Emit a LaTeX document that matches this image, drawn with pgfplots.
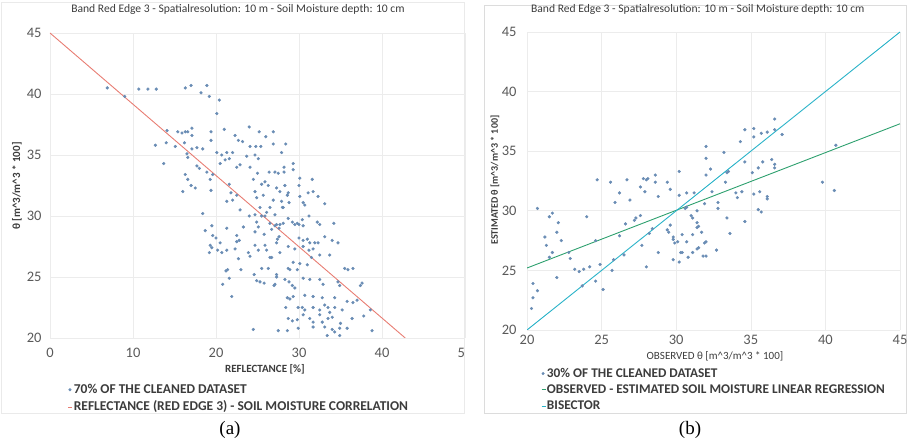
\documentclass[border=0pt]{standalone}
\usepackage{pgfplots}
\pgfplotsset{compat=1.18}
\usepackage{fontspec}
\setmainfont{Carlito}
\newfontfamily\capfont{Liberation Serif}
\definecolor{dotc}{RGB}{105,140,180}
\definecolor{redl}{RGB}{232,125,115}
\definecolor{bisc}{RGB}{40,178,200}
\definecolor{regc}{RGB}{45,160,110}
\definecolor{tickc}{RGB}{89,89,89}
\definecolor{gridc}{RGB}{236,236,236}
\definecolor{txtc}{RGB}{60,60,60}
\definecolor{framec}{RGB}{220,220,220}

\pgfplotsset{
  mystyle/.style={
    scale only axis,
    axis line style={draw=none},
    major tick length=0pt,
    grid=major,
    major grid style={gridc, line width=0.6pt},
    tick label style={font=\fontsize{14.5}{16}\selectfont, text=tickc},
    /pgf/number format/assume math mode=true,
    legend cell align=left,
    title style={font=\fontsize{11.6}{13}\selectfont, text=txtc, anchor=center},
    label style={font=\bfseries\fontsize{11}{13}\selectfont, text=txtc, anchor=center},
  },
  dots/.style={only marks, mark=*, mark size=1.4pt, color=dotc,
    legend image code/.code={\fill (1.5pt,0pt) circle (1.3pt);}},
  lin/.style={line width=0.9pt,
    legend image code/.code={\draw[line width=0.8pt] (0pt,0pt) -- (4pt,0pt);}},
}

\begin{document}
\begin{tikzpicture}[x=1pt,y=1pt]
\useasboundingbox (0,0) rectangle (907,443);
\draw[framec!60!white, line width=0.6pt] (1,30) rectangle (464,441);
\draw[framec, line width=0.6pt] (484,30) rectangle (906.5,438);

\begin{axis}[mystyle,
  at={(50pt,105pt)}, anchor=south west,
  width=415pt, height=305pt,
  xmin=0, xmax=50, ymin=20, ymax=45,
  xtick={0,10,...,50}, ytick={20,25,...,45},
  xticklabel style={yshift=-7pt},
  yticklabel style={xshift=-5pt},
  title={Band Red Edge 3 - Spatialresolution: 10 m - Soil Moisture depth: 10 cm},
  title style={at={(axis description cs:0.453,1.056)}},
  xlabel={REFLECTANCE [\%]},
  xlabel style={at={(axis description cs:0.518,-0.102)}},
  ylabel={θ [m\^{}3/m\^{}3 * 100]},
  ylabel style={at={(axis description cs:-0.0795,0.498)}},
  legend style={at={(axis description cs:0.043,-0.151)}, anchor=north west,
    draw=none, fill=none, inner sep=0pt,
    font=\bfseries\fontsize{13.5}{15}\selectfont, text=txtc,
    nodes={inner ysep=0pt, inner xsep=1pt, text height=9pt, text depth=2pt},
    row sep=6.5pt},
]
\addplot[dots] coordinates {
(6.9,40.5) (9.0,39.8) (10.7,40.4) (11.8,40.4) (12.8,40.4) (16.3,40.5) (17.0,40.7) (18.2,40.1) (18.9,40.7) (19.2,39.8) (20.4,39.5) (20.1,38.4)
(12.7,35.8) (13.7,34.3) (14.0,36.0) (14.1,37.0) (15.4,36.9) (15.9,36.8) (16.3,36.9) (16.6,36.9) (15.1,35.7) (17.1,37.2) (17.1,36.6) (16.2,36.0)
(16.5,35.1) (16.6,34.8) (17.1,35.5) (17.7,35.6) (18.4,35.5) (16.3,33.4) (16.6,33.0) (16.0,32.0) (17.0,32.5) (17.5,32.3) (17.7,34.1) (18.0,33.9)
(18.9,33.6) (19.3,33.0) (19.6,33.4) (19.4,32.1) (19.4,36.9) (19.4,36.2) (21.0,37.1) (20.1,35.2) (20.7,35.0) (21.3,35.2) (20.5,34.3) (21.1,34.6)
(21.6,34.7) (22.0,35.2) (21.6,32.6) (21.8,31.9) (22.0,31.3) (21.3,31.2) (22.5,31.7) (22.3,36.6) (22.7,36.2) (23.2,36.1) (24.0,37.3) (23.7,34.9)
(24.1,34.0) (22.9,34.2) (22.5,34.0) (24.1,35.7)
(25.2,36.9) (26.0,36.5) (26.9,36.9) (24.8,35.7) (25.4,35.7) (26.9,35.9) (28.4,35.9) (24.7,35.0) (25.1,34.7) (28.2,34.0) (29.3,34.3) (26.4,33.6)
(27.1,33.6) (27.5,33.5) (28.2,33.6) (29.3,33.8) (24.5,33.0) (25.5,32.6) (25.9,32.8) (26.3,32.5) (27.3,32.3) (27.7,32.0) (28.3,32.5) (28.7,31.9)
(28.6,31.7) (30.1,33.1) (31.6,33.0) (30.0,32.5) (31.1,31.9) (31.7,32.0) (30.1,31.6) (30.5,31.1) (30.7,30.9) (32.3,31.6) (33.1,31.0) (24.7,32.0)
(24.9,31.5) (25.7,31.7) (26.9,31.3) (27.9,31.2) (28.1,30.7) (28.8,31.1) (26.5,30.7) (25.3,30.7) (27.9,35.2) (25.0,33.5) (24.0,30.0) (25.5,30.0)
(26.1,30.3) (22.9,30.5)
(18.4,30.2) (19.5,29.2) (18.7,28.8) (21.3,29.0) (23.3,29.1) (19.6,28.4) (20.0,28.2) (19.3,27.6) (19.5,27.4) (20.2,27.2) (20.7,27.0) (20.5,27.8)
(19.2,27.0) (21.3,27.2) (22.3,27.3) (22.5,28.4) (22.8,28.0) (22.5,27.9) (23.9,27.0) (24.1,26.7) (22.7,26.5) (21.2,25.5) (21.4,25.6) (23.0,25.6)
(21.6,24.9) (20.8,24.4) (21.9,23.4) (24.5,20.7) (24.6,25.2) (24.9,24.7) (25.3,24.6) (25.8,24.5) (24.7,27.6) (25.1,27.2) (25.9,27.6) (26.1,27.2)
(25.5,25.7) (26.3,25.7) (26.5,26.6) (27.3,25.0) (27.0,24.3) (24.7,28.7) (24.9,29.5) (24.7,30.1) (25.1,29.1) (25.9,30.0) (26.5,29.4) (26.7,28.9)
(27.1,29.2) (27.6,29.0) (25.8,28.5) (26.7,26.6) (27.4,28.1)
(27.1,30.1) (28.0,30.7) (28.7,29.8) (29.2,29.5) (29.5,29.3) (29.8,29.4) (27.3,29.3) (27.7,29.3) (28.1,29.4) (30.4,29.7) (30.0,29.3) (30.5,29.2)
(32.2,29.5) (32.5,29.3) (34.2,29.4) (31.2,30.0) (27.6,28.3) (27.3,27.8) (27.7,27.0) (28.7,27.5) (29.5,27.3) (30.0,28.2) (30.5,28.0) (31.0,28.1)
(31.3,27.8) (31.9,27.8) (32.3,27.8) (31.2,27.2) (31.7,27.3) (30.5,27.5) (33.1,28.3) (34.0,28.0) (34.7,27.8) (33.7,26.8) (32.5,26.8) (31.5,26.6)
(31.0,26.0) (29.3,26.2) (30.1,26.1) (28.7,25.7) (28.9,25.6) (29.8,25.6) (27.3,25.2) (27.1,24.4) (28.3,24.8) (28.8,24.6) (29.2,24.3) (29.5,24.1)
(30.5,24.9) (31.3,24.8) (32.5,24.8) (32.9,24.4) (35.5,25.7) (35.9,25.6) (36.5,25.7) (34.7,24.6) (34.9,24.3) (37.6,24.5) (28.6,23.3) (28.9,23.2)
(29.3,23.4) (30.7,23.5) (31.7,23.4) (32.8,23.3) (28.4,22.5) (29.9,22.5) (30.4,22.5) (30.7,22.3) (31.7,22.5) (32.5,22.3) (33.1,22.7) (33.5,22.5)
(33.7,22.1) (34.3,23.3) (34.3,22.5) (35.2,22.3) (35.8,23.0) (36.5,22.9) (37.0,23.1) (38.6,22.3) (28.7,21.6) (29.2,21.4) (29.8,21.5) (30.5,21.9)
(31.3,21.6) (31.7,21.3) (32.5,21.9) (32.8,21.3) (33.5,21.6) (34.0,21.7) (36.4,21.6) (33.1,20.9) (34.0,20.7) (34.3,20.5) (34.9,20.8) (35.8,20.8)
(27.5,20.6) (28.6,20.6) (33.4,20.2) (34.9,20.2) (38.8,20.6) (31.7,20.9) (29.9,20.8) (37.8,21.8) (35.0,21.2) (37.4,24.3)
};
\addlegendentry{70\% OF THE CLEANED DATASET}
\addplot[lin, color=redl] coordinates {(0,45) (42.8,20)};
\addlegendentry{REFLECTANCE (RED EDGE 3) - SOIL MOISTURE CORRELATION}
\end{axis}

\fill[white] (464.5,75) rectangle (483.5,100);

\begin{axis}[mystyle,
  at={(527pt,113pt)}, anchor=south west,
  width=373pt, height=298pt,
  xmin=20, xmax=45, ymin=20, ymax=45,
  xtick={20,25,...,45}, ytick={20,25,...,45},
  xticklabel style={yshift=-2pt},
  yticklabel style={xshift=-7pt},
  title={Band Red Edge 3 - Spatialresolution: 10 m - Soil Moisture depth: 10 cm},
  title style={at={(axis description cs:0.458,1.057)}},
  xlabel={OBSERVED θ [m\^{}3/m\^{}3 * 100]},
  xlabel style={at={(axis description cs:0.504,-0.087)}, font=\fontsize{11}{13}\selectfont},
  ylabel={ESTIMATED θ [m\^{}3/m\^{}3 * 100]},
  ylabel style={at={(axis description cs:-0.086,0.503)}, font=\bfseries\fontsize{10}{12}\selectfont},
  legend style={at={(axis description cs:0.0375,-0.127)}, anchor=north west,
    draw=none, fill=none, inner sep=0pt,
    font=\bfseries\fontsize{13.3}{15}\selectfont, text=txtc,
    nodes={inner ysep=0pt, inner xsep=1pt, text height=9pt, text depth=2pt},
    row sep=5.2pt},
]
\addplot[dots] coordinates {
(20.7,30.2) (21.5,29.5) (21.7,29.8) (24.0,29.5) (24.7,32.6) (25.6,32.4) (25.9,30.7) (26.2,31.5) (26.7,32.6) (26.9,30.9) (27.6,32.0) (27.8,32.7)
(28.1,32.7) (27.9,31.6) (28.6,33.0) (28.6,32.4) (29.4,32.4) (28.8,31.2) (29.6,31.8) (30.2,33.3) (30.2,31.3) (30.7,31.5) (31.2,31.5) (30.7,30.3)
(31.0,29.6) (31.4,30.0) (32.0,33.0) (31.9,30.6) (32.0,34.4) (32.0,35.4) (32.3,33.5) (32.4,31.6) (32.8,30.7) (32.8,30.2) (33.2,34.9) (33.4,33.2)
(33.3,32.4) (33.5,33.3) (34.0,31.5) (34.1,31.1) (34.4,31.6) (34.3,35.8) (34.6,34.1) (34.6,36.8) (35.2,36.2) (35.2,36.9) (35.7,36.5) (35.1,33.2)
(35.5,33.6) (35.2,31.4) (35.6,31.6) (35.5,30.1) (35.7,29.9) (35.8,34.1) (36.1,31.2) (36.1,31.0) (36.1,36.6) (36.6,37.7) (36.6,36.8) (36.4,34.3)
(36.6,33.9) (36.6,33.6) (37.1,36.4) (39.8,32.4) (40.6,31.7) (40.7,35.5) (28.0,32.6) (22.1,29.0) (27.3,29.4) (27.6,29.6) (26.6,28.9)
(21.2,27.8) (21.3,27.1) (21.7,26.5) (22.0,28.2) (22.3,27.5) (21.5,26.1) (20.4,23.9) (20.7,23.3) (20.4,22.7) (20.3,21.8) (22.0,24.4) (22.9,26.0)
(22.8,26.5) (23.2,25.1) (23.5,24.9) (23.8,25.1) (24.2,25.3) (24.6,27.5) (23.7,23.7) (24.6,24.1) (24.9,25.5) (25.1,23.4) (25.7,25.0) (25.8,25.9)
(26.2,27.9) (26.5,26.3) (27.2,29.2) (27.7,27.1) (28.0,25.3) (28.2,28.1) (28.4,28.5) (28.8,26.5) (29.4,28.4)
(29.8,25.9) (30.2,25.7) (29.6,28.8) (29.5,28.2) (29.8,27.8) (29.8,27.6) (29.9,27.3) (30.1,27.4) (30.4,28.0) (30.7,27.4) (31.1,28.0) (30.4,26.5)
(31.1,26.5) (31.4,28.6) (31.4,29.0) (31.7,28.2) (32.0,27.4) (32.0,26.2) (31.8,26.2) (31.4,26.8) (32.7,26.7) (33.4,29.4) (33.6,28.1) (34.6,29.1)
(30.8,26.1) (30.3,26.5) (31.9,27.3) (31.5,26.9) (31.5,28.7) (30.6,30.2) (31.1,29.4)
};
\addlegendentry{30\% OF THE CLEANED DATASET}
\addplot[lin, color=regc] coordinates {(20,25.2) (45,37.3)};
\addlegendentry{OBSERVED - ESTIMATED SOIL MOISTURE LINEAR REGRESSION}
\addplot[lin, color=bisc] coordinates {(20,20) (45,45)};
\addlegendentry{BISECTOR}
\end{axis}

\node[font=\capfont\fontsize{19}{21}\selectfont, text=black] at (230,13) {(a)};
\node[font=\capfont\fontsize{19}{21}\selectfont, text=black] at (690,13) {(b)};
\end{tikzpicture}
\end{document}
